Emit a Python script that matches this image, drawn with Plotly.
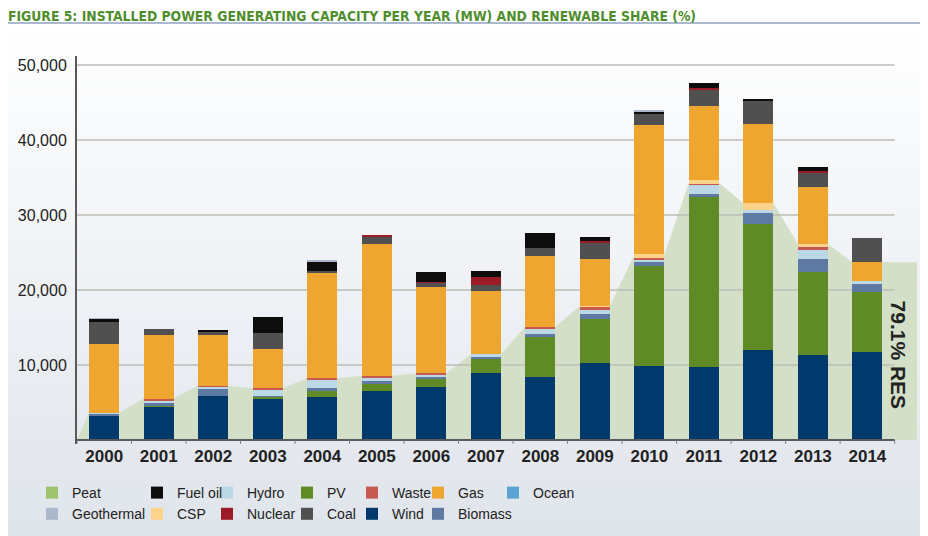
import base64
import struct
import zlib
import plotly.graph_objects as go

# ---------------- data (MW) ----------------
years = ["2000", "2001", "2002", "2003", "2004", "2005", "2006", "2007",
         "2008", "2009", "2010", "2011", "2012", "2013", "2014"]

wind = [3200, 4440, 5910, 5470, 5780, 6530, 7110, 8930, 8440, 10270, 9910, 9780, 12000, 11330, 11780]
pv = [0, 130, 0, 270, 750, 980, 980, 1960, 5290, 5820, 13330, 22670, 16800, 11020, 8000]
biomass = [300, 450, 980, 180, 360, 360, 440, 220, 440, 670, 530, 310, 1420, 1820, 1020]
hydro = [150, 120, 220, 850, 1200, 360, 180, 310, 710, 580, 270, 1240, 440, 1290, 440]
waste = [0, 270, 130, 130, 130, 360, 180, 0, 220, 440, 270, 100, 0, 220, 0]
csp = [0, 0, 0, 0, 0, 0, 0, 0, 0, 130, 440, 530, 890, 440, 0]
ocean = [0] * 15
peat = [0] * 15
gas = [9150, 8530, 6760, 5240, 14000, 17510, 11560, 8490, 9420, 6270, 17240, 9910, 10580, 7640, 2440]
coal = [2900, 800, 530, 2090, 310, 1020, 530, 760, 1020, 2040, 1780, 2090, 3200, 1910, 3290]
nuclear = [0, 0, 0, 0, 0, 100, 130, 1020, 0, 310, -300, 310, 0, 180, 0]
fuel_oil = [450, 0, 100, 2220, 1250, 0, 1250, 840, 2000, 490, 310, 710, 130, 490, 0]
geothermal = [80, 0, 0, 0, 150, 0, 0, 0, 0, 0, 150, 0, 0, 0, 0]

# renewable capacity band drawn behind the bars (MW)
res_band = [3640, 5560, 7240, 6890, 8220, 8580, 8890, 11420, 15110, 17870, 24700, 34300, 31560, 26130, 23690]
res_label = "79.1% RES"

y_ticks = [10000, 20000, 30000, 40000, 50000]

title_text = "FIGURE 5: INSTALLED POWER GENERATING CAPACITY PER YEAR (MW) AND RENEWABLE SHARE (%)"

# ---------------- styling ----------------
W, H = 928, 536
OFF = 8  # page body margin: figure is drawn 8px right/down on screen
# plot area in screen pixels
SX0, SX1, SY0, SY1 = 77, 917, 56, 444
ML, MT = SX0 - OFF, SY0 - OFF
MR, MB = W - (SX1 - OFF), H - (SY1 - OFF)
PW, PH = W - ML - MR, H - MT - MB
X_MIN, X_MAX = -0.5, 14.91
Y_MIN, Y_MAX = -533, 51200
BAR_W = 0.55
FONT = "Liberation Sans, Arial, sans-serif"
NARROW = "DejaVu Sans Condensed, DejaVu Sans, sans-serif"


def sx(px):
    """screen x pixel -> paper x"""
    return (px - OFF - ML) / PW


def sy(py):
    """screen y pixel -> paper y"""
    return (H - MB - (py - OFF)) / PH


def gradient_png(top, bottom, h=128):
    rows = b""
    for i in range(h):
        t = i / (h - 1)
        c = bytes(round(top[k] + (bottom[k] - top[k]) * t) for k in range(3))
        rows += b"\x00" + c + c

    def chunk(tag, data):
        return (struct.pack(">I", len(data)) + tag + data
                + struct.pack(">I", zlib.crc32(tag + data) & 0xFFFFFFFF))

    ihdr = struct.pack(">IIBBBBB", 2, h, 8, 2, 0, 0, 0)
    png = (b"\x89PNG\r\n\x1a\n" + chunk(b"IHDR", ihdr)
           + chunk(b"IDAT", zlib.compress(rows)) + chunk(b"IEND", b""))
    return "data:image/png;base64," + base64.b64encode(png).decode()


idx = list(range(len(years)))
fig = go.Figure()

# renewable band (base axes, under everything)
band_x, band_y = [X_MIN], [0]
for i, v in zip(idx, res_band):
    band_x += [i - BAR_W / 2, i + BAR_W / 2]
    band_y += [v, v]
band_x.append(X_MAX)
band_y.append(res_band[-1])
fig.add_trace(go.Scatter(x=band_x, y=band_y, mode="lines", fill="tozeroy",
                         fillcolor="#d3dfc7", line=dict(width=0, color="#d3dfc7"),
                         showlegend=False, hoverinfo="skip"))

# gridlines drawn above the band but below bars
gx, gy = [], []
for t in y_ticks:
    gx += [X_MIN, len(years) - 0.5, None]
    gy += [t, t, None]
fig.add_trace(go.Scatter(x=gx, y=gy, mode="lines", line=dict(color="#bdbdb5", width=1.5),
                         showlegend=False, hoverinfo="skip"))

# stacked bars: (name, values, colour, legend, rank)
series = [
    ("Wind", wind, "#003a6d", "legend5", 2),
    ("PV", pv, "#5f8a26", "legend4", 1),
    ("Biomass", biomass, "#5f7aa2", "legend6", 2),
    ("Hydro", hydro, "#bcd8e6", "legend3", 1),
    ("Waste", waste, "#c65a4f", "legend5", 1),
    ("CSP", csp, "#fbd38a", "legend2", 2),
    ("Ocean", ocean, "#5ba4d2", "legend7", 1),
    ("Peat", peat, "#9dc46c", "legend", 1),
    ("Gas", gas, "#efa630", "legend6", 1),
    ("Coal", coal, "#505050", "legend4", 2),
    ("Nuclear", nuclear, "#9b1c26", "legend3", 2),
    ("Fuel oil", fuel_oil, "#0d0d0d", "legend2", 1),
    ("Geothermal", geothermal, "#aab7cd", "legend", 2),
]
for name, vals, color, leg, rank in series:
    fig.add_trace(go.Bar(x=idx, y=vals, width=BAR_W, name=name, marker_color=color,
                         marker_line_width=0, xaxis="x2", yaxis="y2",
                         legend=leg, legendrank=rank))

# legends: one per column, text starts near reference positions (screen px)
text_starts = [72, 177, 247, 327, 392, 458, 533]
leg_names = ["legend", "legend2", "legend3", "legend4", "legend5", "legend6", "legend7"]
legend_layout = {}
for name, ts in zip(leg_names, text_starts):
    legend_layout[name] = dict(
        x=sx(ts - 40), y=sy(477), xanchor="left", yanchor="top",
        orientation="v", traceorder="normal", bgcolor="rgba(0,0,0,0)", borderwidth=0,
        font=dict(family=FONT, size=14, color="#222222"), itemclick=False,
    )

shapes = [
    # title rule
    dict(type="line", xref="paper", yref="paper", x0=sx(0), x1=sx(W + OFF),
         y0=sy(23), y1=sy(23), line=dict(color="#8fa3be", width=1.5)),
    # bottom axis line
    dict(type="line", xref="x", yref="y", x0=X_MIN, x1=len(years) - 0.5, y0=0, y1=0,
         line=dict(color="#5a5a5a", width=2), layer="above"),
]
for i in range(len(years) + 1):
    shapes.append(dict(type="line", xref="x", yref="y", x0=i - 0.5, x1=i - 0.5, y0=0, y1=-500,
                       line=dict(color="#777777", width=1), layer="above"))

fig.update_layout(
    width=W, height=H, autosize=False,
    margin=dict(l=ML, r=MR, t=MT, b=MB, autoexpand=False),
    paper_bgcolor="#ffffff", plot_bgcolor="rgba(0,0,0,0)",
    barmode="stack",
    font=dict(family=FONT, color="#222222"),
    title=dict(text=title_text, x=0, xanchor="left", y=1 - 8 / H, yanchor="middle",
               font=dict(family=NARROW, size=13.8, color="#4e8e2c", weight="bold")),
    xaxis=dict(range=[X_MIN, X_MAX], tickvals=idx, ticktext=years, showgrid=False,
               zeroline=False, showline=False, ticks="",
               tickfont=dict(family=FONT, size=17, color="#222222", weight="bold")),
    yaxis=dict(range=[Y_MIN, Y_MAX], tickvals=y_ticks, tickformat=",", showgrid=False,
               zeroline=False, showline=True, linecolor="#5a5a5a", linewidth=2, ticks="",
               ticklabelstandoff=5,
               tickfont=dict(family=FONT, size=16, color="#222222")),
    xaxis2=dict(range=[X_MIN, X_MAX], overlaying="x", visible=False),
    yaxis2=dict(range=[Y_MIN, Y_MAX], overlaying="y", visible=False),
    shapes=shapes,
    annotations=[dict(text=res_label, x=14.57, y=11330, xref="x", yref="y", showarrow=False,
                      textangle=90, font=dict(family=FONT, size=21, color="#222222", weight="bold"))],
    images=[dict(source=gradient_png((255, 255, 255), (223, 228, 235)), xref="paper", yref="paper",
                 x=sx(0), y=sy(24), sizex=(W + OFF) / PW, sizey=(H + OFF - 24) / PH,
                 xanchor="left", yanchor="top", sizing="stretch", layer="below")],
    showlegend=True,
    **legend_layout,
)

fig.write_html("out.html")
